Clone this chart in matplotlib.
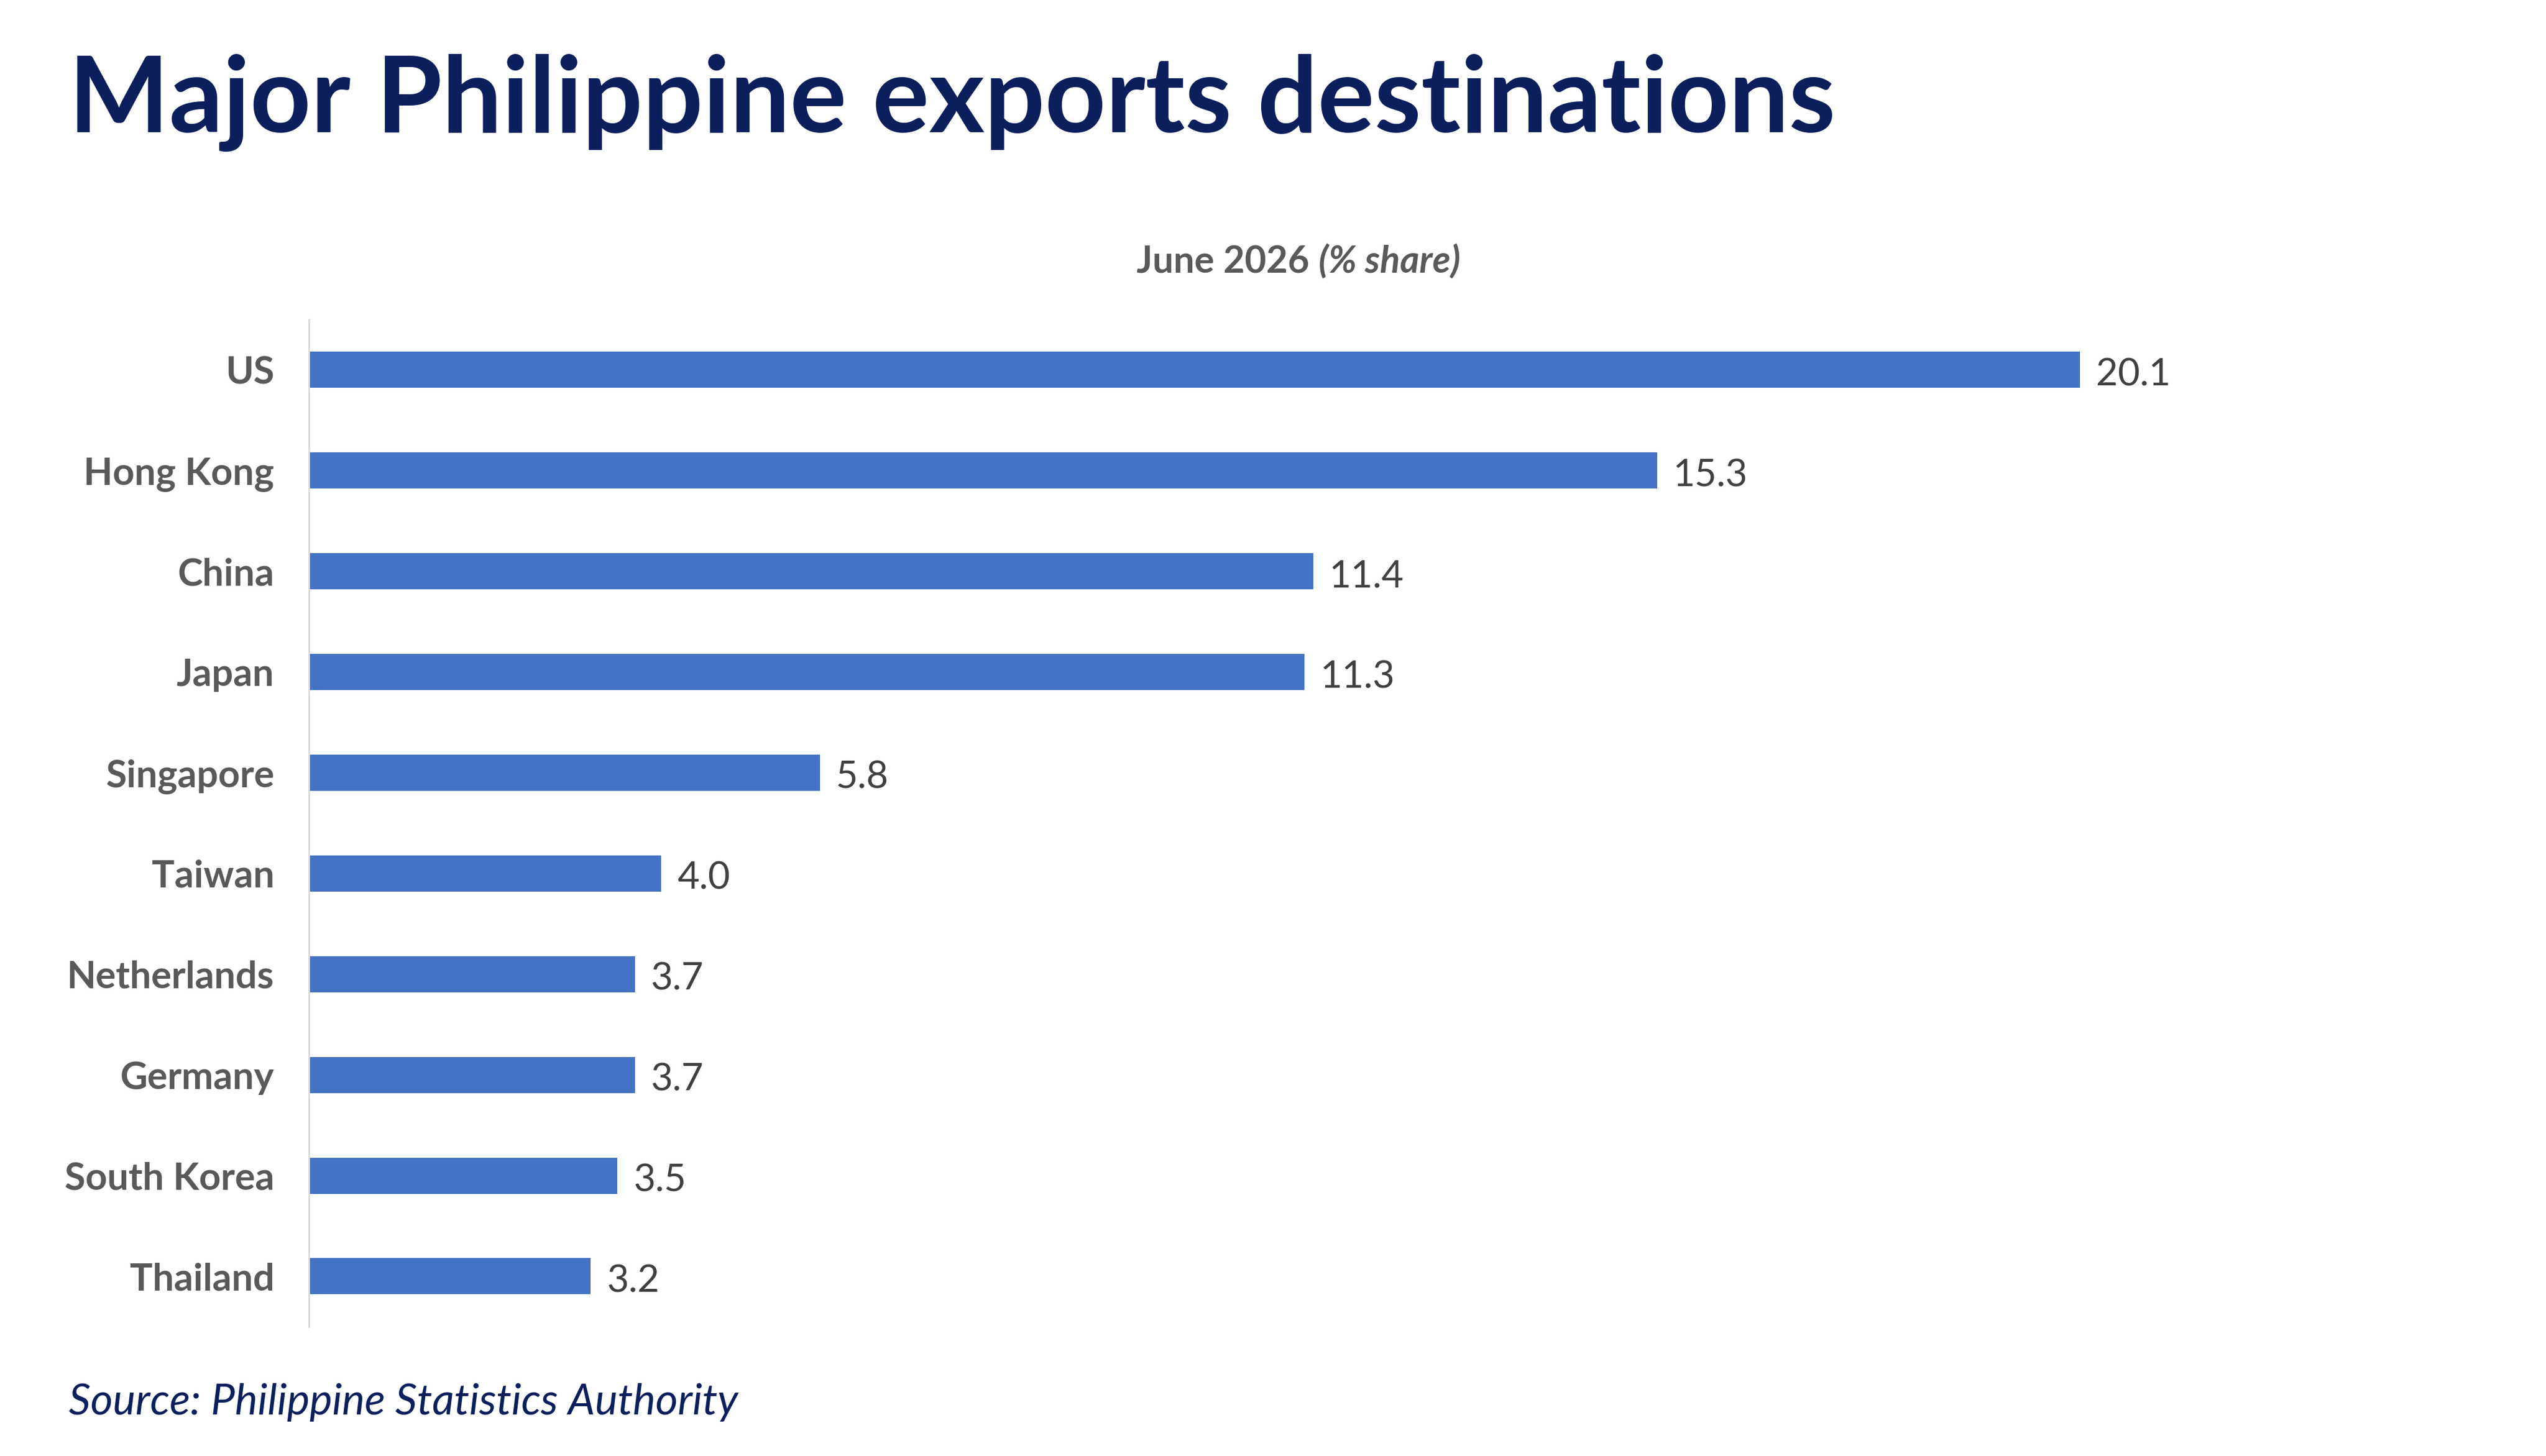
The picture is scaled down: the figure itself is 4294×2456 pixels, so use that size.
import matplotlib.pyplot as plt

countries = ["US", "Hong Kong", "China", "Japan", "Singapore", "Taiwan",
             "Netherlands", "Germany", "South Korea", "Thailand"]
shares = [20.1, 15.3, 11.4, 11.3, 5.8, 4.0, 3.7, 3.7, 3.5, 3.2]

navy = "#0b1f5c"
bar_color = "#4472C4"
label_gray = "#595959"
value_gray = "#404040"

plt.rcParams["font.family"] = ["Lato", "DejaVu Sans"]

fig = plt.figure(figsize=(42.94, 24.56), dpi=100)
ax = fig.add_axes([0.1213, 0.0888, 0.8487, 0.6918])

y = list(range(len(countries)))
ax.barh(y, shares, height=0.359, color=bar_color)
ax.set_ylim(len(countries) - 0.5, -0.5)
ax.set_xlim(0, 24.52)

for yi, v in zip(y, shares):
    ax.text(v + 0.18, yi + 0.05, f"{v:.1f}", va="center", ha="left",
            fontsize=46, color=value_gray)

ax.set_yticks(y)
ax.set_yticklabels(countries, fontsize=46, fontweight="bold", color=label_gray)
ax.tick_params(axis="y", length=0, pad=42)
ax.set_xticks([])
for side in ["top", "right", "bottom"]:
    ax.spines[side].set_visible(False)
ax.spines["left"].set_color("#d9d9d9")
ax.spines["left"].set_linewidth(2)

fig.text(0.027, 0.9096, "Major Philippine exports destinations", fontsize=129,
         fontweight="bold", color=navy, va="baseline", ha="left")
fig.text(0.5143, 0.8127, "June 2026", fontsize=45, fontweight="bold",
         color=label_gray, ha="right", va="baseline")
fig.text(0.518, 0.8127, "(% share)", fontsize=45, fontweight="bold",
         fontstyle="italic", color=label_gray, ha="left", va="baseline")
fig.text(0.027, 0.0285, "Source: Philippine Statistics Authority", fontsize=52,
         fontstyle="italic", color=navy, ha="left", va="baseline")

fig.savefig("out.png", dpi=100)
